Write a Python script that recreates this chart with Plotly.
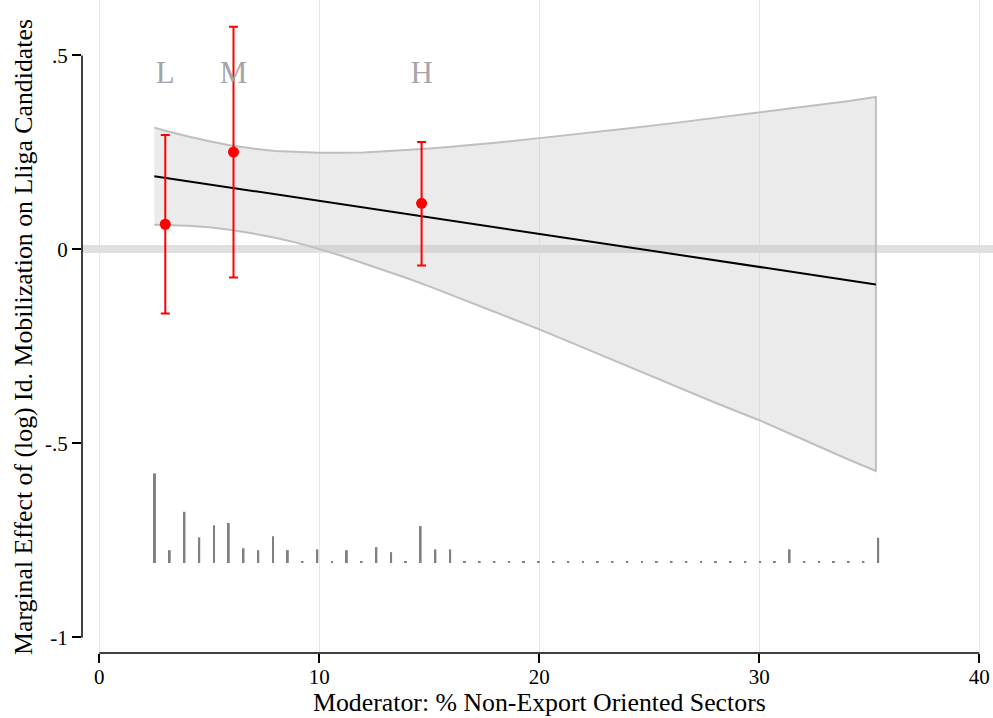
import plotly.graph_objects as go

# Estimated marginal effect (straight line) over the moderator's support
me_x = [2.5, 35.3]
me_y = [0.189, -0.090]

# 95% confidence band of the marginal effect
band_x = [2.5, 3, 4, 5, 6, 7, 8, 9, 10, 11, 12, 13, 14, 15, 16, 18, 20,
          22, 24, 26, 28, 30, 32, 34, 35.3]
band_upper = [0.314, 0.306, 0.292, 0.279, 0.268, 0.260, 0.254, 0.251, 0.249,
              0.249, 0.250, 0.253, 0.256, 0.260, 0.265, 0.275, 0.287, 0.299,
              0.312, 0.325, 0.339, 0.353, 0.367, 0.382, 0.393]
band_lower = [0.064, 0.063, 0.061, 0.057, 0.050, 0.041, 0.030, 0.017, 0.001,
              -0.016, -0.034, -0.054, -0.074, -0.095, -0.117, -0.161, -0.206,
              -0.253, -0.300, -0.347, -0.395, -0.440, -0.491, -0.540, -0.571]

# Binned estimates (Low / Medium / High terciles) with 95% intervals
bin_labels = ["L", "M", "H"]
bin_x = [3.0, 6.1, 14.65]
bin_est = [0.065, 0.251, 0.119]
bin_hi = [0.295, 0.574, 0.277]
bin_lo = [-0.165, -0.072, -0.041]

# Distribution of the moderator (spike histogram, 50 bins)
hist_start, hist_step = 2.53, 0.6709
hist_heights = [0.231, 0.033, 0.132, 0.066, 0.097, 0.103, 0.038, 0.033, 0.069, 0.033,
                0.005, 0.035, 0.005, 0.033, 0.005, 0.041, 0.028, 0.005, 0.095, 0.035,
                0.035, 0.005, 0.005, 0.005, 0.005, 0.005, 0.005, 0.005, 0.005, 0.005,
                0.005, 0.005, 0.005, 0.005, 0.005, 0.005, 0.005, 0.005, 0.005, 0.005,
                0.005, 0.005, 0.005, 0.035, 0.005, 0.005, 0.005, 0.005, 0.005, 0.065]
hist_base = -0.808

x_ticks = [0, 10, 20, 30, 40]
y_ticks = [-1, -0.5, 0, 0.5]
y_ticktext = ["-1", "-.5", "0", ".5"]

FONT = "Liberation Serif"

fig = go.Figure()

# confidence band
fig.add_trace(go.Scatter(
    x=band_x + band_x[::-1],
    y=band_upper + band_lower[::-1],
    fill="toself",
    fillcolor="rgba(193,193,193,0.32)",
    line=dict(color="#bfbfbf", width=2),
    mode="lines",
    hoverinfo="skip",
))

# marginal effect line
fig.add_trace(go.Scatter(
    x=me_x, y=me_y, mode="lines",
    line=dict(color="black", width=2),
))

# histogram spikes
hist_x = [hist_start + hist_step * i for i in range(len(hist_heights))]
fig.add_trace(go.Bar(
    x=hist_x, y=hist_heights, base=hist_base,
    width=0.09, marker=dict(color="#808080", line=dict(width=0)),
))

# binned estimates
fig.add_trace(go.Scatter(
    x=bin_x, y=bin_est, mode="markers",
    marker=dict(color="#ff0000", size=11),
    error_y=dict(
        type="data", symmetric=False,
        array=[h - e for h, e in zip(bin_hi, bin_est)],
        arrayminus=[e - l for e, l in zip(bin_est, bin_lo)],
        color="#ff0000", thickness=2, width=4.5,
    ),
))

# bin letters
fig.add_trace(go.Scatter(
    x=bin_x, y=[0.45] * len(bin_x), mode="text",
    text=bin_labels,
    textfont=dict(family=FONT, size=31, color="#a6a6a6"),
))

# axis lines spanning only the labelled range
fig.add_shape(type="line", xref="paper", yref="y", x0=0, x1=0,
              y0=-1, y1=0.5, line=dict(color="black", width=1.5))
fig.add_shape(type="line", xref="x", yref="paper", x0=0, x1=40,
              y0=0, y1=0, line=dict(color="black", width=1.5))

fig.update_layout(
    width=993, height=718,
    margin=dict(l=82, r=0, t=0, b=65),
    paper_bgcolor="white", plot_bgcolor="white",
    showlegend=False,
    font=dict(family=FONT, color="black", size=21),
    xaxis=dict(
        range=[-0.786, 40.623],
        tickvals=x_ticks, ticks="outside", ticklen=9, tickwidth=1.5,
        tickcolor="black", showline=False, zeroline=False,
        showgrid=True, gridcolor="#e8e8e8", gridwidth=1,
        tickfont=dict(family=FONT, size=21), ticklabelstandoff=-4,
    ),
    yaxis=dict(
        range=[-1.040, 0.643],
        tickvals=y_ticks, ticktext=y_ticktext, ticks="outside", ticklen=9,
        tickwidth=1.5, tickcolor="black", showline=False,
        showgrid=False, zeroline=True, zerolinecolor="#e0e0e0", zerolinewidth=8,
        tickfont=dict(family=FONT, size=21),
    ),
    annotations=[
        dict(text="Moderator: % Non-Export Oriented Sectors",
             xref="x", yref="paper", x=20, y=0,
             yshift=-49, showarrow=False,
             font=dict(family=FONT, size=25.8), xanchor="center", yanchor="middle"),
        dict(text="Marginal Effect of (log) Id. Mobilization on Lliga Candidates",
             xref="paper", yref="paper", x=0, y=(653 - 337) / 653,
             xshift=-59, showarrow=False, textangle=-90,
             font=dict(family=FONT, size=25.8), xanchor="center", yanchor="middle"),
    ],
)

fig.write_html("out.html")
